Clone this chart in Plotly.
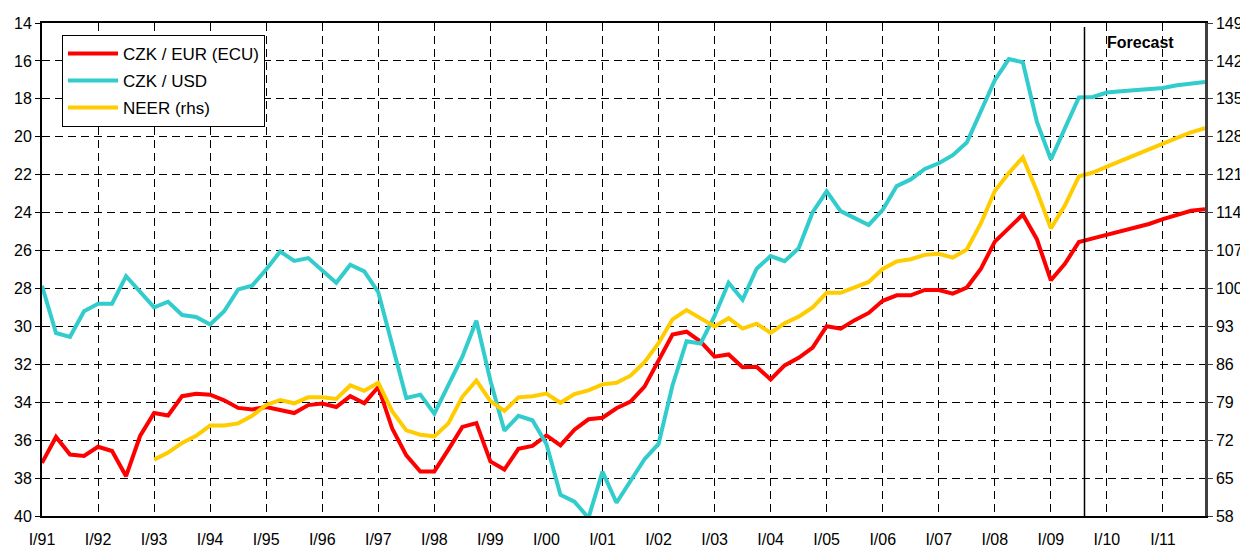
import plotly.graph_objects as go

# quarterly periods I/91 ... IV/11
roman = ["I", "II", "III", "IV"]
quarters = [f"{q}/{y % 100:02d}" for y in range(1991, 2012) for q in roman]
year_ticks = [f"I/{y % 100:02d}" for y in range(1991, 2012)]

# CZK / EUR (ECU), left axis (inverted)
czk_eur = [
    37.2, 35.83, 36.76, 36.83, 36.35, 36.57, 37.9, 35.78,
    34.57, 34.7, 33.68, 33.55, 33.6, 33.9, 34.3, 34.38,
    34.25, 34.4, 34.57, 34.15, 34.07, 34.25, 33.68, 34.05,
    33.2, 35.4, 36.8, 37.65, 37.65, 36.5, 35.3, 35.1,
    37.12, 37.55, 36.46, 36.3, 35.75, 36.27, 35.45, 34.9,
    34.82, 34.32, 33.97, 33.18, 31.8, 30.43, 30.28, 30.8,
    31.6, 31.48, 32.16, 32.13, 32.8, 32.06, 31.66, 31.12,
    29.99, 30.12, 29.67, 29.29, 28.65, 28.36, 28.36, 28.08,
    28.08, 28.27, 27.95, 26.97, 25.53, 24.79, 24.1, 25.4,
    27.57, 26.7, 25.55, 25.36, 25.16, 24.97, 24.8, 24.6,
    24.34, 24.1, 23.9, 23.82,
]

# CZK / USD, left axis (inverted)
czk_usd = [
    27.86, 30.35, 30.55, 29.2, 28.8, 28.8, 27.35, 28.2,
    29.0, 28.7, 29.4, 29.5, 29.9, 29.2, 28.05, 27.85,
    27.0, 26.05, 26.55, 26.4, 27.05, 27.7, 26.75, 27.1,
    28.2, 31.0, 33.78, 33.6, 34.6, 33.1, 31.6, 29.7,
    32.85, 35.5, 34.72, 34.95, 36.2, 38.88, 39.24, 40.1,
    37.66, 39.3, 38.1, 37.0, 36.2, 33.1, 30.78, 30.9,
    29.45, 27.7, 28.6, 26.96, 26.29, 26.56, 25.88, 23.98,
    22.88, 23.92, 24.29, 24.65, 23.85, 22.6, 22.25, 21.7,
    21.4, 20.97, 20.3, 18.63, 17.02, 15.9, 16.07, 19.2,
    21.2, 19.56, 17.93, 17.9, 17.67, 17.6, 17.56, 17.5,
    17.43, 17.28, 17.2, 17.11,
]

# NEER, right axis
neer = [
    None, None, None, None, None, None, None, None,
    68.4, 69.7, 71.5, 72.8, 74.7, 74.7, 75.1, 76.5,
    78.5, 79.4, 78.8, 79.9, 79.9, 79.6, 82.1, 81.1,
    82.6, 77.3, 73.8, 73.0, 72.7, 75.1, 80.0, 83.0,
    79.2, 77.4, 79.9, 80.1, 80.6, 78.9, 80.5, 81.2,
    82.3, 82.6, 83.9, 86.4, 89.9, 94.3, 96.0, 94.4,
    93.0, 94.5, 92.6, 93.5, 91.8, 93.6, 94.8, 96.5,
    99.2, 99.2, 100.3, 101.2, 103.6, 105.0, 105.4, 106.2,
    106.4, 105.7, 107.2, 112.0, 118.0, 121.3, 124.2, 118.0,
    111.1, 115.3, 120.7, 121.4, 122.5, 123.6, 124.7, 125.7,
    126.8, 127.8, 128.8, 129.6,
]

FONT = "Arial, Liberation Sans, sans-serif"

fig = go.Figure()

fig.add_trace(go.Scatter(x=quarters, y=czk_eur, name="CZK / EUR (ECU)",
                         mode="lines", line=dict(color="#FF0000", width=4),
                         legendgroup="a"))
fig.add_trace(go.Scatter(x=quarters, y=czk_usd, name="CZK / USD",
                         mode="lines", line=dict(color="#33CCCC", width=4),
                         legendgroup="b"))
fig.add_trace(go.Scatter(x=quarters, y=neer, name="NEER (rhs)", yaxis="y2",
                         mode="lines", line=dict(color="#FFCC00", width=4),
                         legendgroup="c"))

# forecast separator
fig.add_shape(type="line", xref="x", yref="paper", x0=74.4, x1=74.4,
              y0=0, y1=0.992, line=dict(color="black", width=1.5))
fig.add_annotation(text="<b>Forecast</b>", xref="x", yref="paper",
                   x=78.4, y=0.960, showarrow=False, yanchor="middle",
                   font=dict(family=FONT, size=16, color="black"))

# page body has an 8px margin, so the figure is 8px smaller than the window
fig.update_layout(
    width=1240, height=542,
    margin=dict(l=34, r=43, t=15, b=34, autoexpand=False),
    paper_bgcolor="white", plot_bgcolor="white",
    font=dict(family=FONT, size=16, color="black"),
    showlegend=True,
    legend=dict(x=0.0172, y=0.976, xanchor="left", yanchor="top",
                bgcolor="white", bordercolor="black", borderwidth=1,
                traceorder="grouped", tracegroupgap=2, itemwidth=50,
                font=dict(family=FONT, size=17, color="black")),
    xaxis=dict(
        type="category", categoryorder="array", categoryarray=quarters,
        range=[0, 83], tickmode="array", tickvals=year_ticks, ticktext=year_ticks,
        showline=True, linecolor="black", linewidth=2, mirror=True,
        showgrid=True, gridcolor="black", gridwidth=1, griddash="8px,5px",
        ticks="", ticklabelstandoff=8, zeroline=False, automargin=False,
    ),
    yaxis=dict(
        range=[40, 14], dtick=2, tick0=14,
        showline=True, linecolor="black", linewidth=2,
        ticks="outside", ticklen=5, tickcolor="black",
        showgrid=True, gridcolor="black", gridwidth=1, griddash="8px,5px",
        zeroline=False, automargin=False,
    ),
    yaxis2=dict(
        overlaying="y", side="right", range=[58, 149], dtick=7, tick0=58,
        showline=True, linecolor="#404040", linewidth=2.5,
        ticks="outside", ticklen=5, tickcolor="#404040",
        showgrid=False, zeroline=False, automargin=False,
    ),
)

fig.write_html("out.html")
